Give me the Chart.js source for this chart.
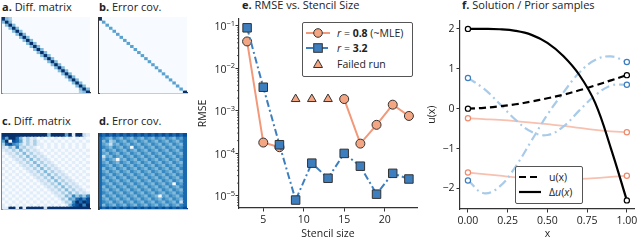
<!DOCTYPE html>
<html>
<head>
<meta charset="utf-8">
<script src="https://cdn.jsdelivr.net/npm/chart.js@4.4.1/dist/chart.umd.min.js"></script>
<style>
  body { margin: 0; width: 640px; height: 240px; overflow: hidden; background: #fff; position: relative;
         font-family: "Open Sans", sans-serif; color: #222; }
  canvas { position: absolute; }
  .title { position: absolute; font-size: 11px; line-height: 12px; white-space: nowrap; }
  .legend { position: absolute; background: #fff; border: 1px solid #555; border-radius: 2px; font-size: 10.5px; box-sizing: border-box; }
  .legend svg, .legend span { position: absolute; }
  .legend span { white-space: nowrap; line-height: 12px; }
</style>
</head>
<body>
<div class="title" style="left:2px;top:1px"><b>a.</b> Diff. matrix</div>
<div class="title" style="left:99px;top:1px"><b>b.</b> Error cov.</div>
<div class="title" style="left:2px;top:115px"><b>c.</b> Diff. matrix</div>
<div class="title" style="left:99px;top:115px"><b>d.</b> Error cov.</div>
<div class="title" style="left:242px;top:-1px"><b>e.</b> RMSE vs. Stencil Size</div>
<div class="title" style="left:462px;top:-1px"><b>f.</b> Solution / Prior samples</div>

<canvas id="matA" width="91" height="78" style="left:0;top:17px"></canvas>
<canvas id="matB" width="91" height="78" style="left:97px;top:17px"></canvas>
<canvas id="matC" width="91" height="78" style="left:0;top:133px"></canvas>
<canvas id="matD" width="91" height="78" style="left:97px;top:133px"></canvas>
<canvas id="rmse" width="236" height="228" style="left:194px;top:12px"></canvas>
<canvas id="sol" width="214" height="228" style="left:426px;top:12px"></canvas>

<div class="legend" style="left:302px;top:22px;width:111px;height:55px">
  <svg width="30" height="55">
    <line x1="3" y1="10" x2="27" y2="10" stroke="#f2997a" stroke-width="2"/>
    <circle cx="15" cy="10" r="4.3" fill="#f4a582" stroke="#333" stroke-width="1"/>
    <line x1="3" y1="25" x2="27" y2="25" stroke="#3d7ebf" stroke-width="2" stroke-dasharray="7 3 2 3"/>
    <rect x="10.7" y="20.7" width="8.6" height="8.6" fill="#3d7ebf" stroke="#333" stroke-width="1"/>
    <polygon points="15,36.5 19.5,44.5 10.5,44.5" fill="#f4a582" stroke="#333" stroke-width="1"/>
  </svg>
  <span style="left:34px;top:4px"><i>r</i> = <b>0.8</b> (~MLE)</span>
  <span style="left:34px;top:19px"><i>r</i> = <b>3.2</b></span>
  <span style="left:34px;top:35px">Failed run</span>
</div>

<div class="legend" style="left:515px;top:166px;width:68px;height:38px">
  <svg width="30" height="38">
    <line x1="3" y1="10" x2="25" y2="10" stroke="#000" stroke-width="2.2" stroke-dasharray="7 4"/>
    <line x1="3" y1="25" x2="25" y2="25" stroke="#000" stroke-width="2.2"/>
  </svg>
  <span style="left:33px;top:4px">u(x)</span>
  <span style="left:33px;top:19px">&Delta;<i>u</i>(<i>x</i>)</span>
</div>

<script>
//#region Data
const stencilSizes = [3, 5, 7, 9, 11, 13, 15, 17, 19, 21, 23];
const rmseR08 = [4.3e-2, 1.8e-4, 1.4e-4, null, null, null, 1.9e-3, 1.7e-4, 4.7e-4, 1.4e-3, 7.6e-4];
const rmseR32 = [9.0e-2, 3.6e-3, 1.6e-4, 8.0e-6, 5.9e-5, 2.6e-5, 1.0e-4, 5.0e-5, 1.1e-5, 3.4e-5, 2.5e-5];
const failedSizes = [9, 11, 13];
const failedRmse = [1.9e-3, 1.9e-3, 1.9e-3];
const rmseTicks = [1e-1, 1e-2, 1e-3, 1e-4, 1e-5];
const stencilTicks = [5, 10, 15, 20];

const xs = [0, 0.1, 0.2, 0.3, 0.4, 0.5, 0.6, 0.7, 0.8, 0.9, 1.0];
const uExact = [0, 0.02, 0.06, 0.11, 0.18, 0.26, 0.35, 0.46, 0.58, 0.71, 0.84];
const lapU = [2.0, 2.0, 1.99, 1.95, 1.85, 1.65, 1.32, 0.85, 0.15, -1.0, -2.3];
const priorBlue1 = [0.77, 0.5, 0.12, -0.28, -0.58, -0.66, -0.45, -0.05, 0.33, 0.58, 0.6];
const priorBlue2 = [-1.8, -2.12, -1.95, -1.45, -0.8, -0.15, 0.4, 0.9, 1.22, 1.31, 1.17];
const priorRed1 = [-0.24, -0.26, -0.28, -0.31, -0.35, -0.39, -0.43, -0.48, -0.53, -0.57, -0.59];
const priorRed2 = [-1.6, -1.64, -1.68, -1.72, -1.75, -1.77, -1.77, -1.76, -1.74, -1.71, -1.68];
const xTicks = [0, 0.25, 0.5, 0.75, 1];
const uTicks = [-2, -1, 0, 1, 2];

// matrix cells, one digit per cell (0 = lightest, 9 = darkest)
const matA = [
  "9430000000000000000000000", "4940000000000000000000000", "0494000000000000000000000",
  "0049400000000000000000000", "0004940000000000000000000", "0000494000000000000000000",
  "0000049400000000000000000", "0000004940000000000000000", "0000000494000000000000000",
  "0000000049400000000000000", "0000000004940000000000000", "0000000000494000000000000",
  "0000000000049400000000000", "0000000000004940000000000", "0000000000000494000000000",
  "0000000000000049400000000", "0000000000000004940000000", "0000000000000000494000000",
  "0000000000000000049400000", "0000000000000000004940000", "0000000000000000000494000",
  "0000000000000000000049400", "0000000000000000000004940", "0000000000000000000000494",
  "0000000000000000000000349"
];
const matB = [
  "9000000000000000000000000", "0500000000000000000000000", "0050000000000000000000000",
  "0005000000000000000000000", "0000500000000000000000000", "0000050000000000000000000",
  "0000005000000000000000000", "0000000500000000000000000", "0000000050000000000000000",
  "0000000005000000000000000", "0000000000500000000000000", "0000000000050000000000000",
  "0000000000005000000000000", "0000000000000500000000000", "0000000000000050000000000",
  "0000000000000005000000000", "0000000000000000500000000", "0000000000000000050000000",
  "0000000000000000005000000", "0000000000000000000500000", "0000000000000000000050000",
  "0000000000000000000005000", "0000000000000000000000500", "0000000000000000000000050",
  "0000000000000000000000009"
];
const matC = [
  "9999999999999499995919921", "8599741312010101010101010", "5908751313101010101010101",
  "3786531313110101010101010", "2142623121010101010101010", "1213141312101010101010101",
  "0121314131210101010101010", "1012131413121010101010101", "0101213141312101010101010",
  "1010121314131210101010101", "0101012131413121010101010", "1010101213141312101010101",
  "0101010121314131210101010", "1010101012131413121010101", "0101010101213141312101010",
  "1010101010121314131210101", "0101010101012131413121010", "1010101010101213141312101",
  "0101010101010121314131210", "1010101010101012131413121", "0101010101010101214263536",
  "1010101010101010131547868", "0101010101010101013269798", "1010101010101010101478969",
  "1199191999992999999999999"
];
const matD = [
  "8787878787878787878787878", "7654654654654654654654657", "7463465465465465465465467",
  "7542546546546546546546547", "7654654650654654654654657", "7465465465465465465465467",
  "7546546546546546546546547", "7254654654654654654654657", "7465405465465465465465467",
  "7546546546546546546546547", "7654654654654654654654657", "7465465465465465465465467",
  "7546546546546546546546547", "7654654654654654654654657", "7465465465465465465465467",
  "7546546546546546546546547", "7654654654654654654650657", "7465465465465465465465467",
  "7546546546546546546546547", "7654654654654654654654657", "7465465465465465405465467",
  "7546546546546546546546547", "7654654654654654654654627", "7465465465465465465465467",
  "8787878787878787878787878"
];
//#endregion

//#region Helpers
const BLUES = ["#f7fbff", "#deebf7", "#c6dbef", "#9ecae1", "#6baed6", "#4292c6", "#2171b5", "#08519c", "#08306b"];
function hexRgb(h) { return [1, 3, 5].map(i => parseInt(h.substr(i, 2), 16)); }
function blues(t) {
    const p = Math.max(0, Math.min(1, t)) * 8;
    const i = Math.min(7, Math.floor(p));
    const f = p - i;
    const a = hexRgb(BLUES[i]), b = hexRgb(BLUES[i + 1]);
    return "rgb(" + a.map((v, k) => Math.round(v + (b[k] - v) * f)).join(",") + ")";
}
Chart.defaults.font.family = '"Open Sans", sans-serif';
Chart.defaults.font.size = 10.5;
Chart.defaults.color = "#222";
const AXIS = "#333";
//#endregion

//#region Matrix panels
function LoadMatrix(id, rows, leftSpine) {
    const n = rows.length;
    const datasets = rows.map(r => {
        const cells = r.padEnd(n, "0").slice(0, n).split("");
        return {
            data: cells.map(() => 1),
            backgroundColor: cells.map(c => blues(+c / 9)),
            borderWidth: 0,
            barPercentage: 1,
            categoryPercentage: 1,
            inflateAmount: 0.6
        };
    });
    new Chart(document.getElementById(id), {
        type: "bar",
        data: { labels: rows.map((_, j) => j), datasets },
        options: {
            responsive: false, animation: false, events: [],
            layout: { padding: { left: 2, bottom: 2, right: 1 } },
            plugins: { legend: { display: false }, tooltip: { enabled: false } },
            scales: {
                x: {
                    stacked: true, ticks: { display: false },
                    grid: { display: false, drawTicks: false },
                    border: { display: true, color: AXIS, width: 1.3 },
                    afterFit(s) { s.height = 0; }
                },
                y: {
                    stacked: true, reverse: true, min: 0, max: n, ticks: { display: false },
                    grid: { display: false, drawTicks: false },
                    border: { display: true, color: leftSpine, width: 1.8 },
                    afterFit(s) { s.width = 0; }
                }
            }
        }
    });
}
//#endregion

//#region RMSE panel
const logLabels = {
    id: "logLabels",
    afterDraw(chart) {
        const s = chart.scales.y, ctx = chart.ctx;
        ctx.save();
        ctx.fillStyle = "#222";
        ctx.strokeStyle = AXIS;
        ctx.lineWidth = 0.8;
        ctx.textBaseline = "middle";
        rmseTicks.forEach(v => {
            const y = s.getPixelForValue(v);
            const exp = "\u2212" + Math.round(-Math.log10(v));
            ctx.font = '10.5px "Open Sans"';
            const w1 = ctx.measureText("10").width;
            ctx.font = '7.5px "Open Sans"';
            const w2 = ctx.measureText(exp).width;
            const x0 = s.right - 4 - w1 - w2;
            ctx.font = '10.5px "Open Sans"';
            ctx.fillText("10", x0, y + 1.5);
            ctx.font = '7.5px "Open Sans"';
            ctx.fillText(exp, x0 + w1, y - 2.5);
            // minor ticks of this decade
            for (let m = 2; m <= 9; m++) {
                const mv = m * v / 10;
                if (mv < s.min) continue;
                const my = s.getPixelForValue(mv);
                ctx.beginPath();
                ctx.moveTo(s.right, my);
                ctx.lineTo(s.right - 2, my);
                ctx.stroke();
            }
        });
        ctx.restore();
    }
};

function LoadRmseChart() {
    const BLUE = "#3d7ebf", SALMON = "#f4a582";
    new Chart(document.getElementById("rmse"), {
        type: "line",
        data: {
            datasets: [{
                data: stencilSizes.map((x, i) => ({ x, y: rmseR32[i] })),
                borderColor: BLUE, borderWidth: 2, borderDash: [7, 3, 2, 3],
                pointStyle: "rect", pointRadius: 6, pointBackgroundColor: BLUE,
                pointBorderColor: AXIS, pointBorderWidth: 1, tension: 0, order: 0
            }, {
                data: stencilSizes.map((x, i) => ({ x, y: rmseR08[i] })),
                borderColor: "#f2997a", borderWidth: 2, spanGaps: false,
                pointStyle: "circle", pointRadius: 4.5, pointBackgroundColor: SALMON,
                pointBorderColor: AXIS, pointBorderWidth: 1, tension: 0, order: 1
            }, {
                data: failedSizes.map((x, i) => ({ x, y: failedRmse[i] })),
                showLine: false, pointStyle: "triangle", pointRadius: 5,
                pointBackgroundColor: SALMON, pointBorderColor: AXIS, pointBorderWidth: 1, order: 2
            }]
        },
        options: {
            responsive: false, animation: false, events: [],
            layout: { padding: { top: 5, right: 13, left: 0, bottom: 0 } },
            plugins: { legend: { display: false }, tooltip: { enabled: false } },
            scales: {
                x: {
                    type: "linear", min: 2, max: 24,
                    afterBuildTicks(s) { s.ticks = stencilTicks.map(v => ({ value: v })); },
                    ticks: { padding: 2, maxRotation: 0, autoSkip: false, color: "#222" },
                    grid: { display: true, drawOnChartArea: false, drawTicks: true, tickLength: 3.5, color: AXIS, tickWidth: 1 },
                    border: { display: true, color: AXIS, width: 1.2 },
                    title: { display: true, text: "Stencil size", padding: 0, color: "#222" },
                    afterFit(s) { s.height = 32; }
                },
                y: {
                    type: "logarithmic", min: 5.2e-6, max: 0.145,
                    afterBuildTicks(s) { s.ticks = rmseTicks.map(v => ({ value: v, major: true })); },
                    ticks: { display: false },
                    grid: { display: true, drawOnChartArea: false, drawTicks: true, tickLength: 3.5, color: AXIS, tickWidth: 1 },
                    border: { display: true, color: AXIS, width: 1.2 },
                    title: { display: true, text: "RMSE", padding: { top: 3, bottom: 0 }, color: "#222" },
                    afterFit(s) { s.width = 45; }
                }
            }
        },
        plugins: [logLabels]
    });
}
//#endregion

//#region Solution panel
function curve(values, line, marker, dash, width, order) {
    const last = values.length - 1;
    return {
        data: xs.map((x, i) => ({ x, y: values[i] })),
        borderColor: line, borderWidth: width, borderDash: dash, tension: 0.4,
        pointRadius: c => (c.dataIndex === 0 || c.dataIndex === last) ? 2.6 : 0,
        pointBackgroundColor: "#fff", pointBorderColor: marker, pointBorderWidth: 1.2,
        order
    };
}

function LoadSolutionChart() {
    const LBLUE = "#a8cbe9", MBLUE = "#3d7ebf", LRED = "#f7c1b0", MRED = "#ef8a6c";
    new Chart(document.getElementById("sol"), {
        type: "line",
        data: {
            datasets: [
                curve(lapU, "#000", "#000", [], 2.2, 0),
                curve(uExact, "#000", "#000", [7, 4], 2.2, 1),
                curve(priorBlue1, LBLUE, MBLUE, [9, 4, 2, 4], 2.2, 2),
                curve(priorBlue2, LBLUE, MBLUE, [9, 4, 2, 4], 2.2, 3),
                curve(priorRed1, LRED, MRED, [], 1.8, 4),
                curve(priorRed2, LRED, MRED, [], 1.8, 5)
            ]
        },
        options: {
            responsive: false, animation: false, events: [],
            layout: { padding: { top: 5, right: 3, left: 0, bottom: 0 } },
            plugins: { legend: { display: false }, tooltip: { enabled: false } },
            scales: {
                x: {
                    type: "linear", min: -0.05, max: 1.05,
                    afterBuildTicks(s) { s.ticks = xTicks.map(v => ({ value: v })); },
                    ticks: { padding: 2, maxRotation: 0, autoSkip: false, callback: v => v.toFixed(2) },
                    grid: { display: true, drawOnChartArea: false, drawTicks: true, tickLength: 3.5, color: AXIS },
                    border: { display: true, color: AXIS, width: 1.2 },
                    title: { display: true, text: "x", padding: 0 },
                    afterFit(s) { s.height = 31; }
                },
                y: {
                    min: -2.515, max: 2.215,
                    afterBuildTicks(s) { s.ticks = uTicks.map(v => ({ value: v })); },
                    ticks: { padding: 2, autoSkip: false, callback: v => v < 0 ? "\u2212" + Math.abs(v) : String(v) },
                    grid: { display: true, drawOnChartArea: false, drawTicks: true, tickLength: 3.5, color: AXIS },
                    border: { display: true, color: AXIS, width: 1.2 },
                    title: { display: true, text: "u(x)", padding: 0 },
                    afterFit(s) { s.width = 34; }
                }
            }
        }
    });
}
//#endregion

//#region On Load
LoadMatrix("matA", matA, "#808080");
LoadMatrix("matB", matB, AXIS);
LoadMatrix("matC", matC, "#808080");
LoadMatrix("matD", matD, AXIS);
LoadRmseChart();
LoadSolutionChart();
//#endregion
</script>
</body>
</html>
